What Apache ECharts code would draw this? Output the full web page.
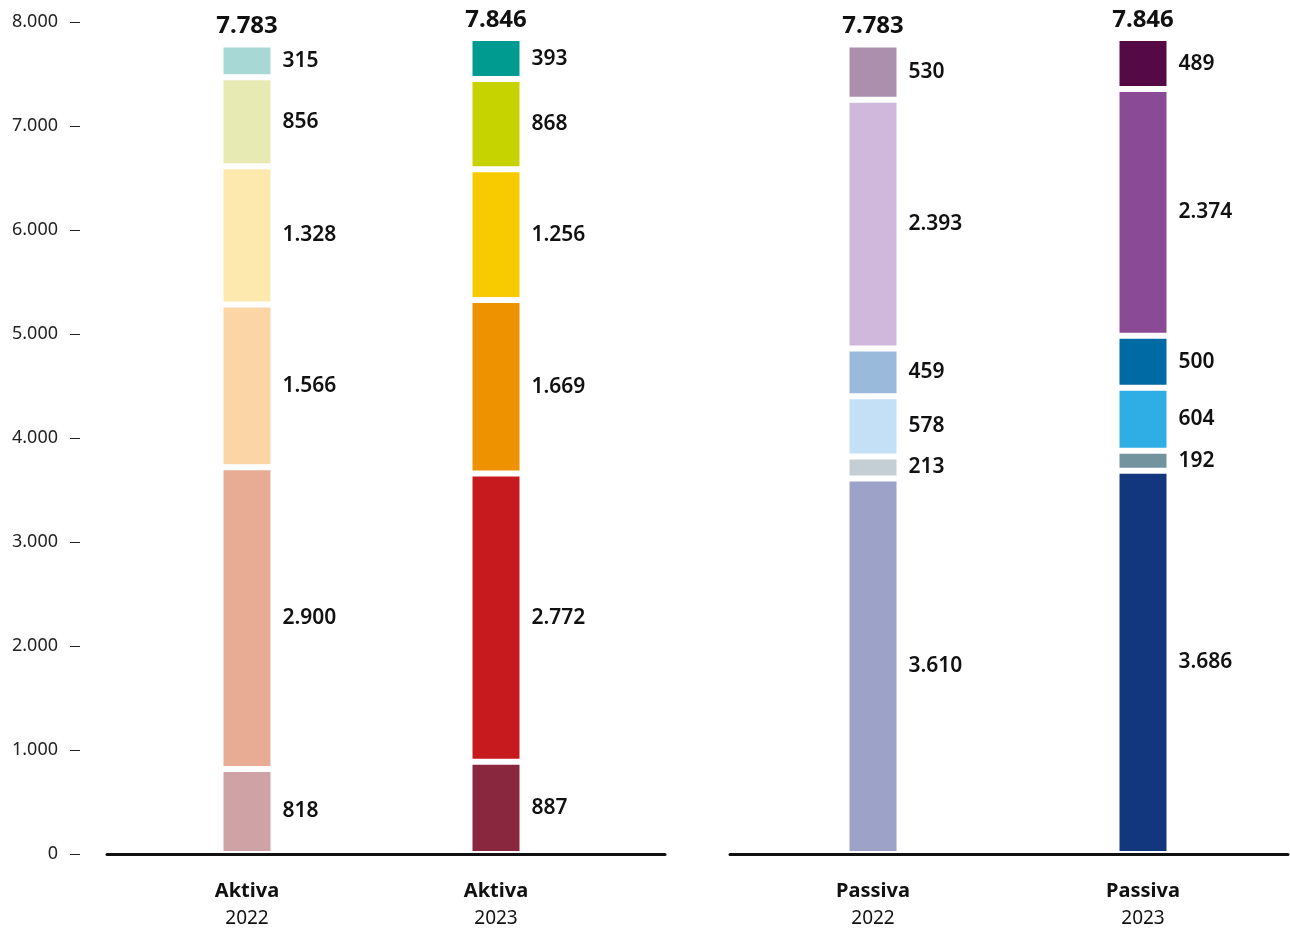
<!DOCTYPE html>
<html>
<head>
<meta charset="utf-8">
<title>Aktiva / Passiva</title>
<script src="https://cdn.jsdelivr.net/npm/echarts@6/dist/echarts.min.js"></script>
<style>
  html, body { margin: 0; padding: 0; background: #fff; }
  #chart { width: 1290px; height: 928px; }
</style>
</head>
<body>
<div id="chart"></div>
<script>
// categories (one column per grid)
var columnTitles = ['Aktiva', 'Aktiva', 'Passiva', 'Passiva']
var columnYears = ['2022', '2023', '2022', '2023']
// segment values, bottom to top
var aktiva2022 = [818, 2900, 1566, 1328, 856, 315]
var aktiva2023 = [887, 2772, 1669, 1256, 868, 393]
var passiva2022 = [3610, 213, 578, 459, 2393, 530]
var passiva2023 = [3686, 192, 604, 500, 2374, 489]
// totals printed above the columns
var totals = [7783, 7846, 7783, 7846]
// y axis range
var yMin = 0
var yMax = 8000
var yStep = 1000

var columns = [aktiva2022, aktiva2023, passiva2022, passiva2023]
var palettes = [
  ['#cfa3a5', '#e8ac94', '#fcd5a7', '#fde9ad', '#e7ebb3', '#a7d8d5'],
  ['#89273f', '#c71a1e', '#ef9200', '#f8cb00', '#c7d300', '#009b90'],
  ['#9da2c8', '#c3cfd5', '#c4e0f6', '#9abadb', '#cfb8db', '#ab8fac'],
  ['#13377e', '#73939f', '#2eaee5', '#006aa4', '#8a4a96', '#550a46']
]
// grid placement: left edge and width for each column
var gridBoxes = [
  { left: 107, width: 280 },
  { left: 327, width: 338 },
  { left: 730, width: 286 },
  { left: 998, width: 290 }
]

var FONT = '"Noto Sans", "DejaVu Sans", sans-serif'

function fmt(v) {
  return String(v).replace(/\B(?=(\d{3})+(?!\d))/g, '.')
}

var grids = []
var xAxes = []
var yAxes = []
var series = []

columns.forEach(function(values, k) {
  grids.push({ left: gridBoxes[k].left, width: gridBoxes[k].width, top: 22, height: 836 })
  xAxes.push({
    type: 'category',
    gridIndex: k,
    data: [columnTitles[k] + '|' + columnYears[k]],
    z: 10,
    axisLine: { show: true, lineStyle: { color: '#111', width: 3 } },
    axisTick: { show: false },
    axisLabel: {
      margin: 24,
      formatter: function(val) {
        var p = val.split('|')
        return '{t|' + p[0] + '}\n{y|' + p[1] + '}'
      },
      rich: {
        t: { fontFamily: FONT, fontSize: 20, fontWeight: 'bold', color: '#111', lineHeight: 27 },
        y: { fontFamily: FONT, fontSize: 19, color: '#111', lineHeight: 27 }
      }
    }
  })
  yAxes.push({
    type: 'value',
    gridIndex: k,
    min: yMin,
    max: yMax,
    interval: yStep,
    show: k === 0,
    offset: 27,
    axisLine: { show: false },
    axisTick: { show: true, length: 10, lineStyle: { color: '#222', width: 1 } },
    splitLine: { show: false },
    axisLabel: {
      margin: 22,
      fontFamily: FONT,
      fontSize: 18,
      color: '#222',
      formatter: function(v) { return fmt(v) }
    }
  })

  values.forEach(function(v, i) {
    series.push({
      name: columnTitles[k] + ' ' + columnYears[k] + ' #' + (i + 1),
      type: 'bar',
      xAxisIndex: k,
      yAxisIndex: k,
      stack: 'col' + k,
      barWidth: 53,
      data: [v],
      itemStyle: { color: palettes[k][i], borderColor: '#fff', borderWidth: 3 },
      label: {
        show: true,
        position: 'right',
        distance: 9,
        fontFamily: FONT,
        fontSize: 21,
        fontWeight: 600,
        color: '#111',
        formatter: function(p) { return fmt(p.value) }
      },
      animation: false
    })
  })

  // empty cap on top of the stack carrying the total
  series.push({
    name: 'total ' + k,
    type: 'bar',
    xAxisIndex: k,
    yAxisIndex: k,
    stack: 'col' + k,
    barWidth: 53,
    data: [0],
    itemStyle: { color: 'transparent', borderWidth: 0 },
    label: {
      show: true,
      position: 'top',
      distance: 6,
      fontFamily: FONT,
      fontSize: 24,
      fontWeight: 'bold',
      color: '#111',
      formatter: function() { return fmt(totals[k]) }
    },
    animation: false
  })
})

var chart = echarts.init(document.getElementById('chart'))
chart.setOption({
  backgroundColor: '#fff',
  animation: false,
  grid: grids,
  xAxis: xAxes,
  yAxis: yAxes,
  series: series
})
</script>
</body>
</html>
